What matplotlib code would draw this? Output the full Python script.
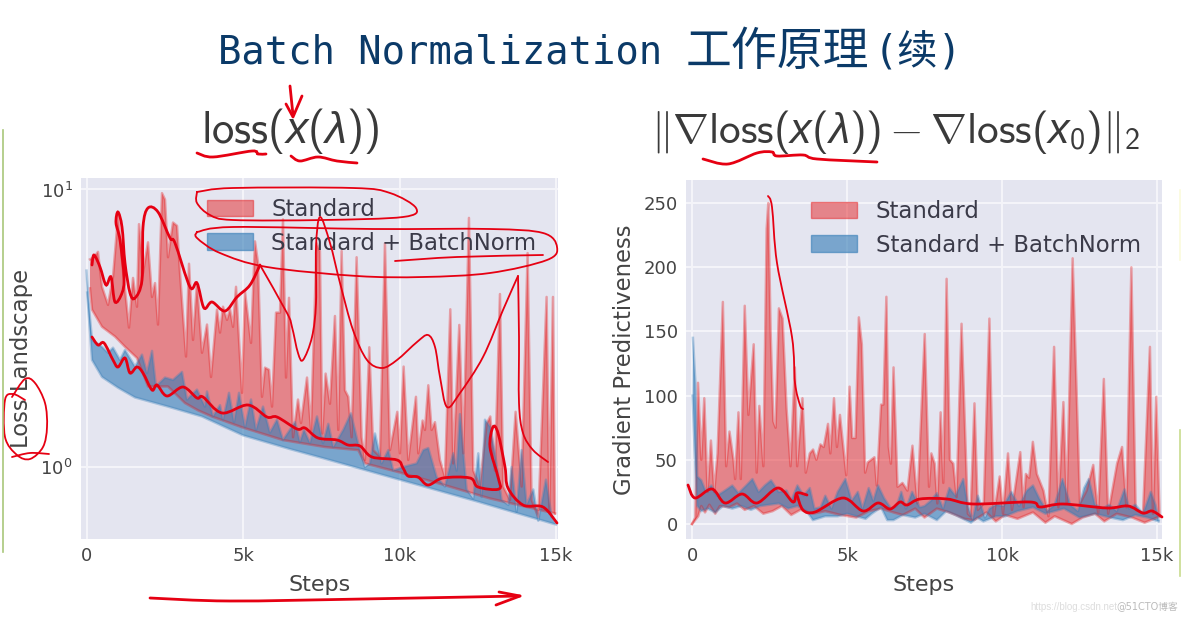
from matplotlib import pyplot as plt
from matplotlib.patches import Patch, PathPatch
from matplotlib.path import Path
from numpy import array, r_

# left panel, loss landscape
loss_red_up_x = [112, 240, 367, 495, 687, 847, 1006, 1166, 1358, 1486, 1613, 1677, 1805, 1965, 2093, 2189, 2284, 2412, 2508, 2604, 2764, 2892, 2987, 3179, 3275, 3403, 3530, 3690, 3850, 3978, 4169, 4265, 4361, 4489, 4585, 4681, 4777, 4968, 5064, 5256, 5383, 5479, 5607, 5703, 5831, 5927, 6055, 6182, 6278, 6374, 6470, 6598, 6757, 6853, 7045, 7172,
                 7352, 7458, 7533, 7640, 7778, 7938, 8044, 8151, 8257, 8364, 8470, 8630, 8790, 8896, 9035, 9162, 9375, 9535, 9695, 9929, 10014, 10132, 10280, 10526, 10600, 10739, 10813, 10920, 11026, 11133, 11292, 11452, 11623, 11718, 11910, 12038, 12219, 12357, 12570, 12783, 12900, 13050, 13210, 13316, 13529, 13710, 13902, 14093, 14221, 14434, 14700, 14786, 14903, 14967]
loss_red_up_y = [5.6, 5.7, 5.96, 4.46, 3.84, 4.85, 8.0, 5.1, 3.18, 4.8, 3.78, 7.5, 5.0, 6.45, 4.1, 4.6, 3.26, 9.7, 9.2, 5.7, 7.6, 7.4, 5.0, 2.5, 5.4, 2.87, 4.6, 2.58, 3.26, 2.11, 3.69, 3.05, 3.78, 3.39, 3.69, 3.2, 4.46, 1.85, 4.28, 2.8, 6.5, 5.45, 1.79, 2.28, 2.24, 1.65, 3.6, 3.6, 7.8, 2.1, 4.07, 1.28, 1.75, 1.44, 2.1, 1.36,
                 6.4, 6.0, 1.32, 2.17, 1.69, 3.5, 1.36, 6.0, 1.89, 1.79, 1.28, 5.7, 1.28, 1.06, 2.7, 1.15, 1.09, 6.4, 1.15, 1.58, 1.12, 2.3, 1.06, 1.79, 1.12, 1.47, 1.36, 1.97, 1.36, 1.45, 1.06, 0.92, 3.7, 1.03, 3.25, 1.12, 7.9, 0.97, 0.85, 1.43, 1.52, 0.97, 4.2, 0.85, 0.76, 1.58, 0.85, 5.9, 0.76, 0.66, 4.1, 0.68, 4.1, 0.68]
loss_red_low_x = [112, 176, 495, 911, 1230, 1613, 1965, 2600, 3147, 3562, 4009, 4968, 6278, 7620, 8683, 8896, 9940, 11292, 12890, 14967]
loss_red_low_y = [4.4, 3.69, 3.2, 2.95, 2.71, 2.47, 1.95, 1.95, 1.7, 1.6, 1.52, 1.39, 1.25, 1.18, 1.15, 1.03, 0.96, 0.87, 0.77, 0.68]
loss_blue_up_x = [0, 50, 176, 495, 687, 847, 1070, 1230, 1550, 1773, 1933, 2093, 2220, 2508, 2764, 3051, 3211, 3530, 3786, 3850, 4041, 4265, 4361, 4553, 4713, 4873, 5064, 5256, 5415, 5639, 5863, 6087, 6278, 6662, 6821, 6949, 7140, 7364, 7556,
                  7725, 7885, 8204, 8449, 8683, 8896, 9056, 9216, 9429, 9642, 9801, 10121, 10547, 10760, 10920, 11186, 11452, 11718, 11825, 11932, 12145, 12357, 12517, 12624, 12730, 12890, 13050, 13263, 13476, 13582, 13742, 13902, 14061, 14274, 14434, 14679, 14860]
loss_blue_up_y = [5.1, 4.1, 2.87, 2.71, 2.58, 2.69, 2.43, 2.64, 2.3, 2.54, 2.18, 2.62, 1.95, 2.1, 2.06, 2.2, 1.75, 1.9, 1.65, 1.87, 1.52, 1.67, 1.48, 1.85, 1.45, 1.85, 1.39, 1.75, 1.36, 1.65, 1.33, 1.48, 1.25, 1.45, 1.23, 1.36, 1.22, 1.52, 1.22,
                  1.43, 1.18, 1.36, 1.56, 1.21, 1.0, 1.03, 1.32, 1.03, 1.15, 0.97, 1.0, 1.03, 1.15, 1.17, 0.92, 0.85, 1.12, 0.97, 1.55, 0.83, 0.77, 1.12, 0.78, 1.48, 1.4, 1.12, 0.76, 0.73, 1.0, 0.69, 1.15, 0.73, 0.83, 0.64, 0.9, 0.66]
loss_blue_low_x = [21, 176, 495, 1006, 1550, 2604, 3690, 5000, 6500, 7500, 10000, 12500, 15000]
loss_blue_low_y = [4.25, 2.43, 2.11, 1.93, 1.78, 1.65, 1.52, 1.3, 1.16, 1.08, 0.9, 0.75, 0.62]

# right panel, gradient predictiveness
grad_red_up_x = [0, 107, 193, 300, 396, 503, 610, 717, 824, 995, 1102, 1209, 1338, 1391, 1498, 1573, 1701, 1819, 1990, 2087, 2172, 2301, 2408, 2461, 2536, 2622, 2696, 2803, 2921, 3050, 3178, 3317, 3392, 3563, 3670, 3799, 3906, 4013, 4141, 4248, 4387, 4462, 4580, 4676, 4772, 4976, 5083, 5168, 5275, 5382, 5478, 5585, 5671, 5885, 5960, 6099, 6174, 6270, 6345,
                 6416, 6501, 6630, 6790, 6950, 7111, 7272, 7507, 7646, 7721, 7828, 7914, 8020, 8106, 8213, 8320, 8427, 8534, 8695, 8898, 8984, 9112, 9219, 9412, 9593, 9733, 9925, 10032, 10193, 10321, 10589, 10696, 10770, 10877, 10995, 11124, 11338, 11498, 11680, 11819, 11980, 12087, 12279, 12515, 12729, 12943, 13103, 13285, 13424, 13713, 13873, 14013, 14173, 14312, 14548, 14772, 14869, 14976, 15083]
grad_red_up_y = [0, 5, 110, 50, 98, 25, 65, 25, 55, 173, 45, 72, 50, 35, 87, 35, 170, 85, 140, 40, 92, 45, 230, 250, 150, 80, 75, 168, 160, 90, 45, 122, 45, 98, 40, 55, 58, 50, 62, 60, 78, 55, 98, 60, 85, 38, 107, 67, 67, 161, 140, 40, 48, 52, 30, 93, 93, 177, 60,
                 47, 122, 29, 32, 26, 61, 16, 148, 29, 55, 47, 16, 87, 32, 191, 50, 47, 21, 156, 8, 6, 94, 11, 16, 160, 6, 37, 8, 55, 11, 56, 13, 39, 36, 64, 39, 26, 6, 138, 13, 95, 16, 207, 16, 26, 46, 8, 113, 8, 47, 60, 13, 200, 11, 8, 138, 8, 99, 6]
grad_red_low_x = [0, 200, 300, 420, 560, 750, 900, 1200, 1450, 1700, 2000, 2300, 2600, 2900, 3200, 3500, 3900, 4300, 4800, 5300, 5700, 6100, 6500, 6800, 7200, 7500, 7900, 8300, 8800, 9100, 9500, 9800, 10100, 10500, 11000, 11400, 11700, 12250, 12600, 13000, 13300, 13700, 14200, 14600, 14900, 15083]
grad_red_low_y = [0, 6, 14, 9, 15, 8, 14, 13, 16, 11, 14, 8, 10, 14, 7, 11, 8, 10, 7, 5, 10, 12, 9, 7, 12, 5, 12, 9, 4, 3, 9, 2, 7, 4, 9, 1, 6, 0, 5, 8, 2, 8, 5, 1, 4, 6]
grad_blue_up_x = [30, 110, 170, 300, 450, 620, 800, 1000, 1300, 1500, 1750, 1950, 2150, 2350, 2550, 2800, 3050, 3200, 3400, 3600, 3800, 3950, 4150, 4300, 4500, 4700, 4950, 5150, 5350, 5500, 5700, 5850, 6000, 6200, 6420, 6600, 6750, 6900, 7100, 7350, 7500, 7700, 7900, 8100, 8300, 8500, 8750, 8900, 9050, 9220, 9450, 9600, 9800, 10050, 10300, 10550, 10800, 11000, 11200, 11450, 11700, 11950, 12200, 12450, 12650, 12800, 13000, 13250, 13450, 13700, 13950, 14100, 14300, 14550, 14800, 14950, 15050]
grad_blue_up_y = [145, 110, 37, 34, 25, 30, 22, 25, 30, 24, 30, 35, 25, 30, 34, 25, 26, 18, 30, 22, 28, 12, 13, 22, 12, 25, 35, 18, 25, 12, 28, 18, 30, 20, 12, 14, 25, 12, 25, 13, 14, 18, 24, 12, 28, 22, 35, 14, 3, 22, 5, 12, 15, 14, 25, 14, 26, 30, 20, 10, 15, 35, 15, 10, 28, 35, 15, 12, 15, 10, 27, 12, 15, 8, 25, 15, 3]
grad_blue_low_x = [20, 80, 170, 300, 500, 750, 1000, 1300, 1600, 1900, 2200, 2500, 2800, 3100, 3400, 3700, 3900, 4300, 4700, 5000, 5600, 5800, 6100, 6300, 6500, 6800, 7200, 7500, 7900, 8200, 8500, 9000, 9200, 9400, 9800, 10100, 10500, 11000, 11400, 12000, 12500, 13000, 13500, 13900, 14300, 14700, 15050]
grad_blue_low_y = [100, 60, 14, 10, 12, 9, 14, 12, 14, 11, 14, 15, 16, 12, 14, 10, 3, 6, 6, 8, 4, 8, 13, 3, 3, 7, 5, 8, 3, 10, 7, 1, 5, 2, 6, 6, 10, 13, 8, 12, 5, 8, 5, 3, 7, 5, 2]

step_ticks = [0, 5000, 10000, 15000]
step_labels = ['0', '5k', '10k', '15k']
grad_ticks = [0, 50, 100, 150, 200, 250]
series_names = ['Standard', 'Standard + BatchNorm']

# hand drawn red ink, in picture pixels
ink_thick = [
    [(92, 265), (94, 255), (100, 267), (106, 285), (111, 277), (115, 302), (122, 293), (124, 277), (120, 240), (116, 223), (118, 212), (122, 227), (125, 263), (130, 293), (135, 298), (142, 280), (143, 227), (148, 208), (158, 212), (170, 238), (175, 243), (190, 287), (197, 283), (204, 308), (212, 302), (225, 311), (237, 297), (250, 285), (260, 265)],
    [(92, 337), (98, 345), (104, 343), (113, 360), (118, 367), (125, 358), (130, 373), (137, 367), (143, 373), (152, 390), (157, 385), (167, 396), (183, 387), (197, 398), (203, 397), (222, 413), (248, 405), (267, 417), (277, 417), (297, 429), (305, 428), (318, 438), (337, 440), (348, 445), (360, 446), (372, 457), (397, 460), (403, 468), (408, 476), (418, 477), (428, 485), (443, 478), (470, 478), (478, 487), (499, 489), (498, 477), (490, 447), (493, 427), (498, 433), (505, 467), (508, 488), (523, 505), (543, 507), (557, 523)],
    [(688, 485), (695, 498), (712, 489), (725, 503), (742, 494), (757, 503), (778, 488), (793, 502), (797, 493), (807, 495)],
    [(797, 495), (803, 510), (815, 512), (843, 498), (863, 511), (878, 503), (890, 509), (900, 502), (907, 505), (920, 499), (947, 499), (973, 504), (1030, 502), (1040, 507), (1063, 504), (1107, 508), (1128, 506), (1143, 513), (1152, 511), (1162, 517)],
    [(197, 153), (213, 157), (252, 151), (258, 154), (266, 154)],
    [(291, 156), (300, 161), (318, 157), (337, 161), (357, 163)],
    [(703, 159), (728, 164), (757, 153), (772, 152), (777, 156), (803, 155), (817, 159), (877, 162)],
    [(290, 86), (293, 115)],
    [(150, 598), (230, 601), (363, 599), (520, 596)],
]
ink_thin = [
    [(260, 265), (287, 313), (292, 327), (298, 353), (303, 360), (312, 337), (316, 303), (316, 247), (320, 217), (330, 243), (340, 283), (353, 330), (367, 360), (382, 368), (397, 360), (417, 342), (428, 335), (435, 347), (440, 377), (447, 407), (460, 393), (483, 357), (503, 310), (518, 276)],
    [(518, 276), (519, 337), (519, 403), (523, 433), (533, 450), (548, 462)],
    [(197, 192), (233, 188), (353, 188), (390, 193), (416, 208), (403, 217), (323, 220), (233, 220), (210, 215), (197, 203), (197, 192)],
    [(197, 232), (233, 227), (373, 229), (490, 229), (543, 233), (557, 247), (547, 260), (490, 273), (423, 277), (357, 276), (267, 267), (220, 253), (197, 238), (197, 232)],
    [(395, 261), (457, 257), (543, 255)],
    [(12, 397), (25, 379), (35, 383), (45, 403), (47, 427), (43, 447), (30, 459), (17, 455), (5, 437), (5, 400), (13, 394), (25, 400)],
    [(12, 457), (30, 453), (49, 454)],
    [(768, 196), (772, 207), (777, 263), (792, 337), (795, 383), (800, 405), (803, 409)],
]
ink_heads = [
    [(302, 96), (293, 117), (286, 104)],
    [(499, 592), (520, 596), (496, 605)],
]

plt.rcParams['font.family'] = ['DejaVu Sans', 'Noto Sans CJK SC']
plt.rcParams['mathtext.fontset'] = 'custom'
plt.rcParams['mathtext.rm'] = 'cmss10'
plt.rcParams['mathtext.sf'] = 'cmss10'
plt.rcParams['mathtext.it'] = 'Liberation Sans:italic'

W, H = 1184, 617
RED, BLUE = '#E41A1C', '#377EB8'
TEXT = '#444444'
INK = '#E60012'


def ax_box(left, top, right, bottom):
    return [left / W, 1 - bottom / H, (right - left) / W, (bottom - top) / H]


def band(ax, up_x, up_y, low_x, low_y, color, alpha):
    # upper and lower edges were read separately, so fill as a polygon
    ax.fill(r_[up_x, low_x[::-1]], r_[up_y, low_y[::-1]], color=color, alpha=alpha, lw=0)
    ax.plot(up_x, up_y, color=color, alpha=0.35, lw=1.8)
    ax.plot(low_x, low_y, color=color, alpha=0.35, lw=1.8)


def pen_path(pts):
    # round pen stroke through the points, as bezier segments
    verts = [pts[0]]
    for i in range(len(pts) - 1):
        p0 = pts[max(i - 1, 0)]
        p1, p2 = pts[i], pts[i + 1]
        p3 = pts[min(i + 2, len(pts) - 1)]
        verts.append((p1[0] + (p2[0] - p0[0]) / 6, p1[1] + (p2[1] - p0[1]) / 6))
        verts.append((p2[0] - (p3[0] - p1[0]) / 6, p2[1] - (p3[1] - p1[1]) / 6))
        verts.append(p2)
    return Path(verts, [Path.MOVETO] + [Path.CURVE4] * (len(verts) - 1))


fig = plt.figure(figsize=(W / 100, H / 100), dpi=100, facecolor='white')
ax1 = fig.add_axes(ax_box(81, 178, 558, 539))
ax2 = fig.add_axes(ax_box(686, 180, 1162, 539))

band(ax1, array(loss_red_up_x), array(loss_red_up_y), array(loss_red_low_x), array(loss_red_low_y), RED, 0.48)
band(ax1, array(loss_blue_up_x), array(loss_blue_up_y), array(loss_blue_low_x), array(loss_blue_low_y), BLUE, 0.62)
ax1.set_yscale('log')
ax1.set_xlim(-176, 15064)
ax1.set_ylim(0.55, 11)
ax1.set_ylabel('Loss Landscape', fontsize=16.4, color=TEXT)
ax1.yaxis.set_label_coords(-48 / 477, 0.5)

band(ax2, array(grad_red_up_x), array(grad_red_up_y), array(grad_red_low_x), array(grad_red_low_y), RED, 0.48)
band(ax2, array(grad_blue_up_x), array(grad_blue_up_y), array(grad_blue_low_x), array(grad_blue_low_y), BLUE, 0.62)
ax2.set_xlim(-194, 15161)
ax2.set_ylim(-11.7, 268)
ax2.set_yticks(grad_ticks)
ax2.set_ylabel('Gradient Predictiveness', fontsize=16.4, color=TEXT)
ax2.yaxis.set_label_coords(-50 / 476, 0.5)

for ax, legend_x, legend_y in ((ax1, 0.226, 0.995), (ax2, 0.225, 0.995)):
    ax.set_facecolor('#E4E5F0')
    ax.set_xticks(step_ticks)
    ax.set_xticklabels(step_labels)
    ax.set_xlabel('Steps', fontsize=16, color=TEXT, labelpad=7)
    ax.grid(True, which='major', color='#F4F4F9', lw=1.5)
    ax.minorticks_off()
    ax.set_axisbelow(True)
    ax.tick_params(axis='both', length=0, labelsize=13, labelcolor=TEXT, pad=6)
    for s in ax.spines.values():
        s.set_visible(False)
    handles = [Patch(facecolor=RED, edgecolor=RED, alpha=0.48), Patch(facecolor=BLUE, edgecolor=BLUE, alpha=0.62)]
    ax.legend(handles, series_names, loc='upper left', bbox_to_anchor=(legend_x, legend_y), frameon=False, fontsize=16.4,
              labelcolor='#3a3a48', handlelength=2.02, handleheight=0.75, handletextpad=0.8, labelspacing=0.47,
              borderaxespad=0.4)

fig.text(218 / W, 1 - 64 / H, 'Batch Normalization', fontsize=28, color='#0B3A68', family='DejaVu Sans Mono')
fig.text(686 / W, 1 - 65 / H, '工作原理', fontsize=33, color='#0B3A68', family='Noto Sans CJK SC')
fig.text(874 / W, 1 - 65 / H, '(续)', fontsize=29, color='#0B3A68', family=['DejaVu Sans Mono', 'Noto Sans CJK SC'])

fig.text(290 / W, 1 - 143 / H, r'$\mathsf{loss}(x(\lambda))$', fontsize=32, color='#3a3a3a', ha='center')
fig.text(895 / W, 1 - 143 / H, r'$\|\nabla\mathsf{loss}(x(\lambda))-\nabla\mathsf{loss}(x_0)\|_2$', fontsize=31,
         color='#3a3a3a', ha='center')

fig.text(1030 / W, 1 - 610 / H, 'https://blog.csdn.net', fontsize=7, color='#dddddd', family='Liberation Sans')
fig.text(1178 / W, 1 - 610 / H, '@51CTO博客', fontsize=7, color='#bbbbbb', ha='right')

# overlay in picture pixels for the pen strokes and the screen edge lines
ink = fig.add_axes([0, 0, 1, 1], facecolor='none')
ink.set_xlim(0, W)
ink.set_ylim(H, 0)
ink.axis('off')
ink.plot([3, 3], [130, 552], color='#A9C77A', lw=1.2)
ink.plot([1180, 1180], [430, 576], color='#C8DC8E', lw=1.2)
ink.plot([1180, 1180], [190, 260], color='#FBFBDC', lw=1.2)
for stroke in ink_thick:
    ink.add_patch(PathPatch(pen_path(stroke), fill=False, edgecolor=INK, lw=2.0, capstyle='round'))
for stroke in ink_thin:
    ink.add_patch(PathPatch(pen_path(stroke), fill=False, edgecolor=INK, lw=1.3, capstyle='round'))
for stroke in ink_heads:
    xs, ys = zip(*stroke)
    ink.plot(xs, ys, color=INK, lw=2.0, solid_joinstyle='round', solid_capstyle='round')

fig.savefig('out.png', dpi=100)
